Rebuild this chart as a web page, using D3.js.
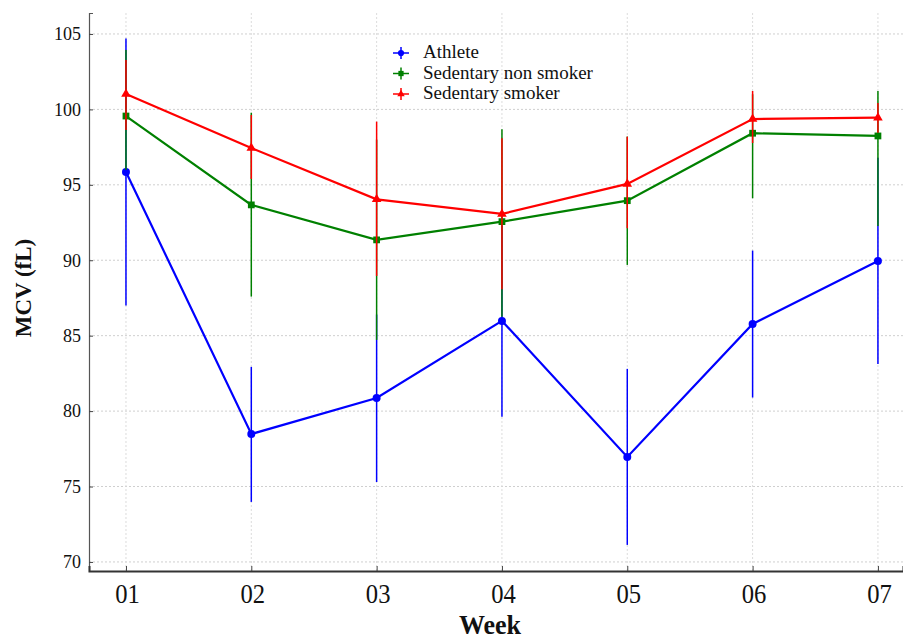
<!DOCTYPE html>
<html>
<head>
<meta charset="utf-8">
<script src="https://cdn.jsdelivr.net/npm/d3@7"></script>
<style>
  html, body { margin: 0; padding: 0; background: #fff; }
  svg { display: block; font-family: "Liberation Serif", "Times New Roman", serif; }
</style>
</head>
<body>
<svg id="chart" width="903" height="641"></svg>
<script>
// Weekly MCV means with error-bar bounds for three groups
const weeks = ["01", "02", "03", "04", "05", "06", "07"];
const yTicks = [70, 75, 80, 85, 90, 95, 100, 105];

const athleteMean = [95.85, 78.48, 80.87, 85.98, 76.96, 85.78, 89.95];
const athleteLow  = [87.0, 73.98, 75.3, 79.63, 71.13, 80.9, 83.13];
const athleteHigh = [104.7, 82.93, 86.4, 92.3, 82.8, 90.64, 96.8];

const nonSmokerMean = [99.56, 93.67, 91.35, 92.56, 93.95, 98.42, 98.24];
const nonSmokerLow  = [95.98, 87.59, 84.72, 86.26, 89.69, 94.11, 92.27];
const nonSmokerHigh = [103.94, 99.78, 98.0, 98.68, 98.2, 101.0, 101.22];

const smokerMean = [101.02, 97.44, 94.04, 93.07, 95.06, 99.36, 99.45];
const smokerLow  = [98.64, 95.39, 88.96, 88.08, 92.12, 97.77, 98.45];
const smokerHigh = [103.28, 99.63, 99.19, 98.09, 98.19, 101.22, 100.43];

const seriesNames = ["Athlete", "Sedentary non smoker", "Sedentary smoker"];

const series = [
  { name: seriesNames[0], color: "#0000ff", symbol: d3.symbolCircle, size: 50, mean: athleteMean, low: athleteLow, high: athleteHigh },
  { name: seriesNames[1], color: "#008000", symbol: d3.symbolSquare, size: 46, mean: nonSmokerMean, low: nonSmokerLow, high: nonSmokerHigh },
  { name: seriesNames[2], color: "#ff0000", symbol: d3.symbolTriangle, size: 40, mean: smokerMean, low: smokerLow, high: smokerHigh }
];

const svg = d3.select("#chart");
const plot = { left: 89, right: 903, top: 13, bottom: 571 };

// week index -> x
const x = d3.scaleLinear().domain([-0.295, 6.2]).range([plot.left, plot.right]);
const y = d3.scaleLinear().domain([69.4, 106.39]).range([plot.bottom, plot.top]);

// grid
const grid = svg.append("g");
grid.selectAll("line.h").data(yTicks).join("line")
  .attr("x1", plot.left).attr("x2", plot.right)
  .attr("y1", d => y(d)).attr("y2", d => y(d))
  .attr("stroke", "#cfcfcf").attr("stroke-width", 1).attr("stroke-dasharray", "2,2");
grid.selectAll("line.v").data(weeks).join("line")
  .attr("x1", (d, i) => x(i)).attr("x2", (d, i) => x(i))
  .attr("y1", plot.top).attr("y2", plot.bottom)
  .attr("stroke", "#dcdcdc").attr("stroke-width", 1).attr("stroke-dasharray", "2,2");

// axes
const yAxis = d3.axisLeft(y).tickValues(yTicks).tickSize(-4).tickPadding(8);
const gy = svg.append("g").attr("transform", `translate(${plot.left},0)`).call(yAxis);
gy.select(".domain").attr("stroke", "#555").attr("stroke-width", 1.2);
gy.selectAll(".tick line").attr("stroke", "#444");
gy.selectAll(".tick text").attr("font-size", 18).attr("font-family", "Liberation Serif, serif").attr("fill", "#111");

const xAxis = d3.axisBottom(x).tickValues(d3.range(weeks.length)).tickFormat(i => weeks[i]).tickSize(-5);
const gx = svg.append("g").attr("transform", `translate(0,${plot.bottom})`).call(xAxis);
gx.select(".domain").attr("stroke", "#333").attr("stroke-width", 2);
gx.selectAll(".tick line").attr("stroke", "#444");
gx.selectAll(".tick text")
  .attr("y", 0).attr("dy", null)
  .attr("transform", "translate(1,32) scale(0.88,1)")
  .attr("font-size", 28).attr("font-family", "Liberation Serif, serif").attr("fill", "#111");

// axis titles
svg.append("text").attr("transform", "translate(490,634) scale(0.93,1)")
  .attr("text-anchor", "middle").attr("font-size", 28).attr("font-weight", "bold").attr("fill", "#111")
  .text("Week");
svg.append("text").attr("transform", "translate(31,288) rotate(-90)")
  .attr("text-anchor", "middle").attr("font-size", 23).attr("font-weight", "bold").attr("fill", "#111")
  .text("MCV (fL)");

// error bars, lines and markers (athlete first, smoker on top)
const line = d3.line().x((d, i) => x(i)).y(d => y(d));
series.forEach(s => {
  const g = svg.append("g");
  g.selectAll("line.err").data(s.mean).join("line")
    .attr("x1", (d, i) => x(i)).attr("x2", (d, i) => x(i))
    .attr("y1", (d, i) => y(s.low[i])).attr("y2", (d, i) => y(s.high[i]))
    .attr("stroke", s.color).attr("stroke-width", 1.5);
  g.append("path").datum(s.mean).attr("d", line)
    .attr("fill", "none").attr("stroke", s.color).attr("stroke-width", 2.2);
  g.selectAll("path.mk").data(s.mean).join("path")
    .attr("transform", (d, i) => `translate(${x(i)},${y(d)})`)
    .attr("d", d3.symbol().type(s.symbol).size(s.size))
    .attr("fill", s.color);
});

// legend
const legend = svg.append("g").attr("transform", "translate(401,53)");
series.forEach((s, i) => {
  const row = legend.append("g").attr("transform", `translate(0,${i * 20.5})`);
  row.append("line").attr("x1", -8).attr("x2", 8).attr("stroke", s.color).attr("stroke-width", 1.5);
  row.append("line").attr("y1", -6).attr("y2", 6).attr("stroke", s.color).attr("stroke-width", 1.5);
  row.append("path").attr("d", d3.symbol().type(s.symbol).size(s.size * 0.6)).attr("fill", s.color);
  row.append("text").attr("x", 22).attr("y", 5).attr("font-size", 19).attr("fill", "#111").text(s.name);
});
</script>
</body>
</html>
